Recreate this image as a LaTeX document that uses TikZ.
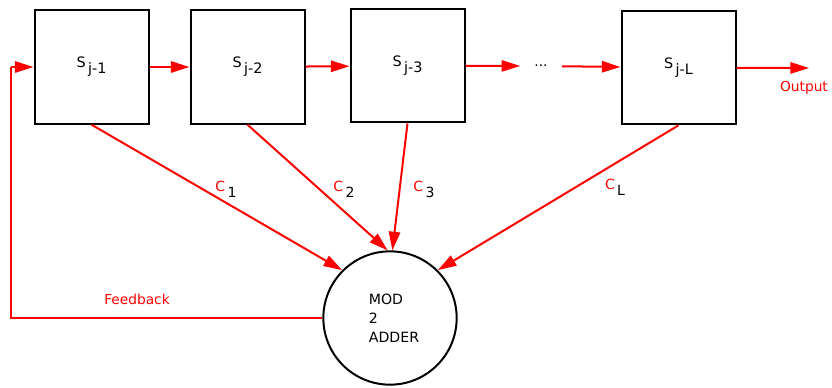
\documentclass[tikz,border=0pt]{standalone}
\usepackage{fontspec}
\setmainfont{DejaVu Sans}
\usetikzlibrary{arrows.meta,positioning,calc}
\tikzstyle{register}=[draw=black,line width=1.5pt,minimum width=85.5pt,minimum height=85pt,inner sep=0pt,font=\fontsize{10.8}{12}\selectfont]
\tikzstyle{adder}=[circle,draw=black,line width=1.5pt,minimum size=100pt,inner sep=0pt,align=left,font=\fontsize{10.6}{14.25}\selectfont]
\tikzstyle{flow}=[red,line width=1.5pt,-{Triangle[length=14pt,width=8.5pt]}]
\tikzstyle{feed}=[red,line width=1.5pt]
\tikzstyle{redlabel}=[red,font=\fontsize{10.3}{12}\selectfont]
\tikzstyle{taplabel}=[font=\fontsize{10.5}{12}\selectfont]
\newcommand{\regname}[1]{S\,\raisebox{-4.5pt}{#1}}
\newcommand{\tapname}[1]{\textcolor{red}{C}\,\raisebox{-4.5pt}{#1}}

\begin{document}
\begin{tikzpicture}[x=0.75pt,y=-0.75pt]
  \useasboundingbox (0,0) rectangle (832,387);

  % shift register stages
  \node[register] (s1) at (91.5,67) {\regname{j-1}\hspace{9pt}};
  \node[register, right = 30pt of s1] (s2) {\regname{j-2}};
  \node[register, right = 33pt of s2, yshift=1pt] (s3) {\regname{j-3}};
  \node[inner xsep=10.5pt, font=\fontsize{10.3}{12}\selectfont] (dots) at (541,66) {...};
  \node[register, right = 116.25pt of s3, yshift=-1.5pt] (sL) {\regname{j-L}};

  \draw[flow] (s1) -- (s2);
  \draw[flow] (s2) -- (s3);
  \draw[flow] (s3) -- (dots);
  \draw[flow] (dots) -- (sL);

  % output
  \coordinate (outEnd) at (809,68);
  \draw[flow] (sL) -- (outEnd);
  \node[redlabel] (outLab) at (804,88) {Output};

  % modulo 2 adder
  \node[adder] (adder) at (390,318) {\hspace*{6pt}MOD\\\hspace*{6pt}2\\\hspace*{6pt}ADDER};

  \draw[flow] (s1.south) -- (adder.135);
  \draw[flow] (s2.south) -- (adder.92);
  \draw[flow] (s3.south) -- (adder.88);
  \draw[flow] (sL.south) -- (adder.45);

  \node[taplabel] (c1) at (226,189) {\tapname{1}};
  \node[taplabel] (c2) at (344,189) {\tapname{2}};
  \node[taplabel] (c3) at (424,189) {\tapname{3}};
  \node[taplabel] (cL) at (615,187) {\tapname{L}};

  % feedback path
  \coordinate (fbCorner) at (11,318);
  \draw[feed] (adder.west) -- (fbCorner) -- (fbCorner |- s1.west);
  \draw[flow] (fbCorner |- s1.west) -- (s1.west);
  \node[redlabel] (fbLab) at (137,299) {Feedback};
\end{tikzpicture}
\end{document}
